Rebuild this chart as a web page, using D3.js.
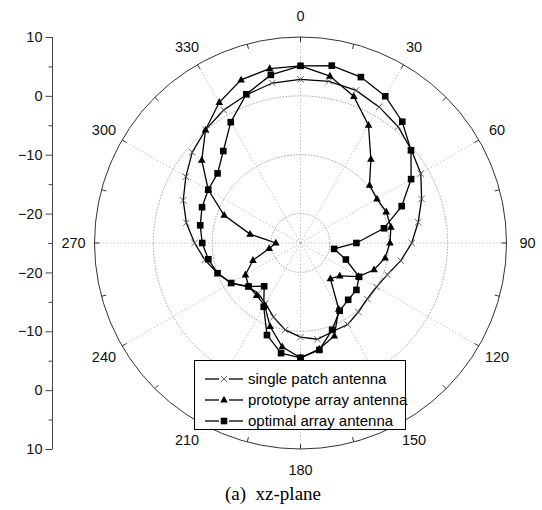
<!DOCTYPE html>
<html>
<head>
<meta charset="utf-8">
<script src="https://cdn.jsdelivr.net/npm/d3@7"></script>
<style>
  body { margin: 0; background: #fff; }
  svg { display: block; font-family: Arial, "Liberation Sans", sans-serif; }
</style>
</head>
<body>
<div class="polar-graph"></div>
<script>
// angles in degrees, 0 at top, clockwise
var angles = d3.range(0, 360, 10);

// gain in dB
var singlePatch = [2.8, 2.9, 2.6, 1.7, 0.8, -0.4, -1.4, -3.1, -4.7, -6.1, -7.7, -9.3,
  -10.1, -10.2, -9.7, -9.0, -9.0, -8.4, -9.0, -10.0, -11.6, -13.1, -13.8, -13.4,
  -11.4, -10.0, -8.5, -7.0, -5.3, -3.8, -2.5, -1.0, 0.1, 1.1, 1.8, 2.6];

var prototypeArray = [5.1, 3.8, 1.5, -1.9, -6.4, -9.7, -10.0, -9.5, -9.4, -9.8, -10.4, -11.7,
  -13.6, -16.3, -17.1, -12.0, -8.2, -6.7, -5.5, -7.1, -9.9, -12.8, -13.4, -13.5,
  -14.2, -16.4, -19.6, -20.8, -16.3, -11.2, -6.9, -3.1, 0.1, 2.6, 4.5, 5.1];

var optimalArray = [5.1, 5.6, 5.0, 3.8, 1.9, -0.5, -3.3, -6.7, -10.6, -15.5, -19.2, -16.8,
  -13.5, -12.6, -12.4, -11.7, -9.3, -6.55, -5.5, -6.0, -8.35, -12.5, -15.4, -13.5,
  -11.4, -10.0, -9.1, -8.3, -7.7, -7.2, -6.9, -6.6, -4.6, -1.3, 1.9, 4.0];

var seriesNames = ["single patch antenna", "prototype array antenna", "optimal array antenna"];
var ringValues = [-20, -10, 0];
var axisMajor = [10, 0, -10, -20];
var axisMinor = [5, -5, -15, -25];
var angleLabels = d3.range(0, 360, 30);

var width = 542, height = 510;
var cx = 300.5, cy = 243, R = 206;

var svg = d3.select(".polar-graph").append("svg")
    .attr("width", width)
    .attr("height", height);

// radius scale
var r = d3.scaleLinear().domain([-25, 10]).range([0, R]);

var g = svg.append("g")
    .attr("transform", "translate(" + cx + "," + cy + ")");

// dotted rings
g.selectAll(".ring")
    .data(ringValues)
  .enter().append("circle")
    .attr("r", function(d) { return r(d); })
    .style("fill", "none")
    .style("stroke", "#888")
    .style("stroke-width", 0.8)
    .style("stroke-dasharray", "1.5,1.5");

// spokes
function px(a, rad) { return rad * Math.sin(a * Math.PI / 180); }
function py(a, rad) { return -rad * Math.cos(a * Math.PI / 180); }

g.selectAll(".spoke")
    .data(angleLabels)
  .enter().append("line")
    .attr("x1", 0).attr("y1", 0)
    .attr("x2", function(d) { return px(d, R); })
    .attr("y2", function(d) { return py(d, R); })
    .style("stroke", "#b0b0b0")
    .style("stroke-width", 0.8)
    .style("stroke-dasharray", "1.5,2");

// outer circle
g.append("circle")
    .attr("r", R)
    .style("fill", "none")
    .style("stroke", "#333")
    .style("stroke-width", 1);

// angular ticks every 15 deg
g.selectAll(".atick")
    .data(d3.range(0, 360, 15))
  .enter().append("line")
    .attr("x1", function(d) { return px(d, R); })
    .attr("y1", function(d) { return py(d, R); })
    .attr("x2", function(d) { return px(d, R - 5); })
    .attr("y2", function(d) { return py(d, R - 5); })
    .style("stroke", "#333")
    .style("stroke-width", 1);

// angle labels
g.selectAll(".alabel")
    .data(angleLabels)
  .enter().append("text")
    .attr("x", function(d) { return px(d, R + 21); })
    .attr("y", function(d) { return py(d, R + 21); })
    .attr("text-anchor", "middle")
    .attr("dy", "0.36em")
    .style("font-size", "14.5px")
    .style("fill", "#111")
    .text(function(d) { return d; });

// data lines
var line = d3.lineRadial()
    .angle(function(d) { return d.a * Math.PI / 180; })
    .radius(function(d) { return r(d.v); })
    .curve(d3.curveLinearClosed);

function toPoints(vals) {
  return vals.map(function(v, i) { return {a: angles[i], v: v}; });
}

var allSeries = [singlePatch, prototypeArray, optimalArray];

allSeries.forEach(function(vals) {
  g.append("path")
      .datum(toPoints(vals))
      .attr("d", line)
      .style("fill", "none")
      .style("stroke", "#000")
      .style("stroke-width", 1.3);
});

// markers
function drawMarker(sel, kind) {
  if (kind === 0) {
    sel.append("path")
        .attr("d", "M-3.2,-3.2L3.2,3.2M-3.2,3.2L3.2,-3.2")
        .style("stroke", "#555")
        .style("stroke-width", 0.9)
        .style("fill", "none");
  } else if (kind === 1) {
    sel.append("path")
        .attr("d", "M0,-4.2L3.8,2.6L-3.8,2.6Z")
        .style("fill", "#000");
  } else {
    sel.append("rect")
        .attr("x", -3.3).attr("y", -3.3)
        .attr("width", 6.6).attr("height", 6.6)
        .style("fill", "#000");
  }
}

allSeries.forEach(function(vals, k) {
  g.selectAll(".m" + k)
      .data(toPoints(vals))
    .enter().append("g")
      .attr("transform", function(d) {
        return "translate(" + px(d.a, r(d.v)) + "," + py(d.a, r(d.v)) + ")";
      })
      .each(function() { drawMarker(d3.select(this), k); });
});

// left axis, mirrored about the centre
var yTop = d3.scaleLinear().domain([-25, 10]).range([cy, cy - R]);
var yBot = d3.scaleLinear().domain([-25, 10]).range([cy, cy + R]);
var axisX = 52.5;

var ax = svg.append("g").attr("transform", "translate(" + axisX + ",0)");

ax.append("line")
    .attr("x1", 0).attr("x2", 0)
    .attr("y1", yTop(10)).attr("y2", yBot(10))
    .style("stroke", "#444");

[yTop, yBot].forEach(function(y) {
  ax.append("g")
      .call(d3.axisLeft(y).tickValues(axisMajor).tickSize(7).tickFormat(d3.format("d")))
      .call(function(s) {
        s.select(".domain").remove();
        s.selectAll("line").style("stroke", "#444");
        s.selectAll("text").style("font-size", "14.5px").style("fill", "#111")
            .attr("x", -10).attr("font-family", "Arial, 'Liberation Sans', sans-serif");
      });
  ax.append("g")
      .call(d3.axisLeft(y).tickValues(axisMinor).tickSize(4).tickFormat(""))
      .call(function(s) {
        s.select(".domain").remove();
        s.selectAll("line").style("stroke", "#444");
      });
});

// legend
var legend = svg.append("g");
legend.append("rect")
    .attr("x", 194.5).attr("y", 360.5)
    .attr("width", 211).attr("height", 69)
    .style("fill", "#fff")
    .style("stroke", "#000")
    .style("stroke-width", 1);

seriesNames.forEach(function(name, k) {
  var ly = 379 + k * 21;
  var row = legend.append("g");
  row.append("line").attr("x1", 205).attr("x2", 219).attr("y1", ly).attr("y2", ly)
      .style("stroke", "#000").style("stroke-width", 1.3);
  row.append("line").attr("x1", 229).attr("x2", 243).attr("y1", ly).attr("y2", ly)
      .style("stroke", "#000").style("stroke-width", 1.3);
  var m = row.append("g").attr("transform", "translate(224," + ly + ")");
  drawMarker(m, k);
  row.append("text")
      .attr("x", 248).attr("y", ly)
      .attr("dy", "0.36em")
      .style("font-size", "15px")
      .style("fill", "#000")
      .text(name);
});

// caption
svg.append("text")
    .attr("x", 225).attr("y", 500)
    .style("font-family", "'Liberation Serif', 'Times New Roman', serif")
    .style("font-size", "19px")
    .style("fill", "#000")
    .style("white-space", "pre")
    .text("(a)  xz-plane");
</script>
</body>
</html>
